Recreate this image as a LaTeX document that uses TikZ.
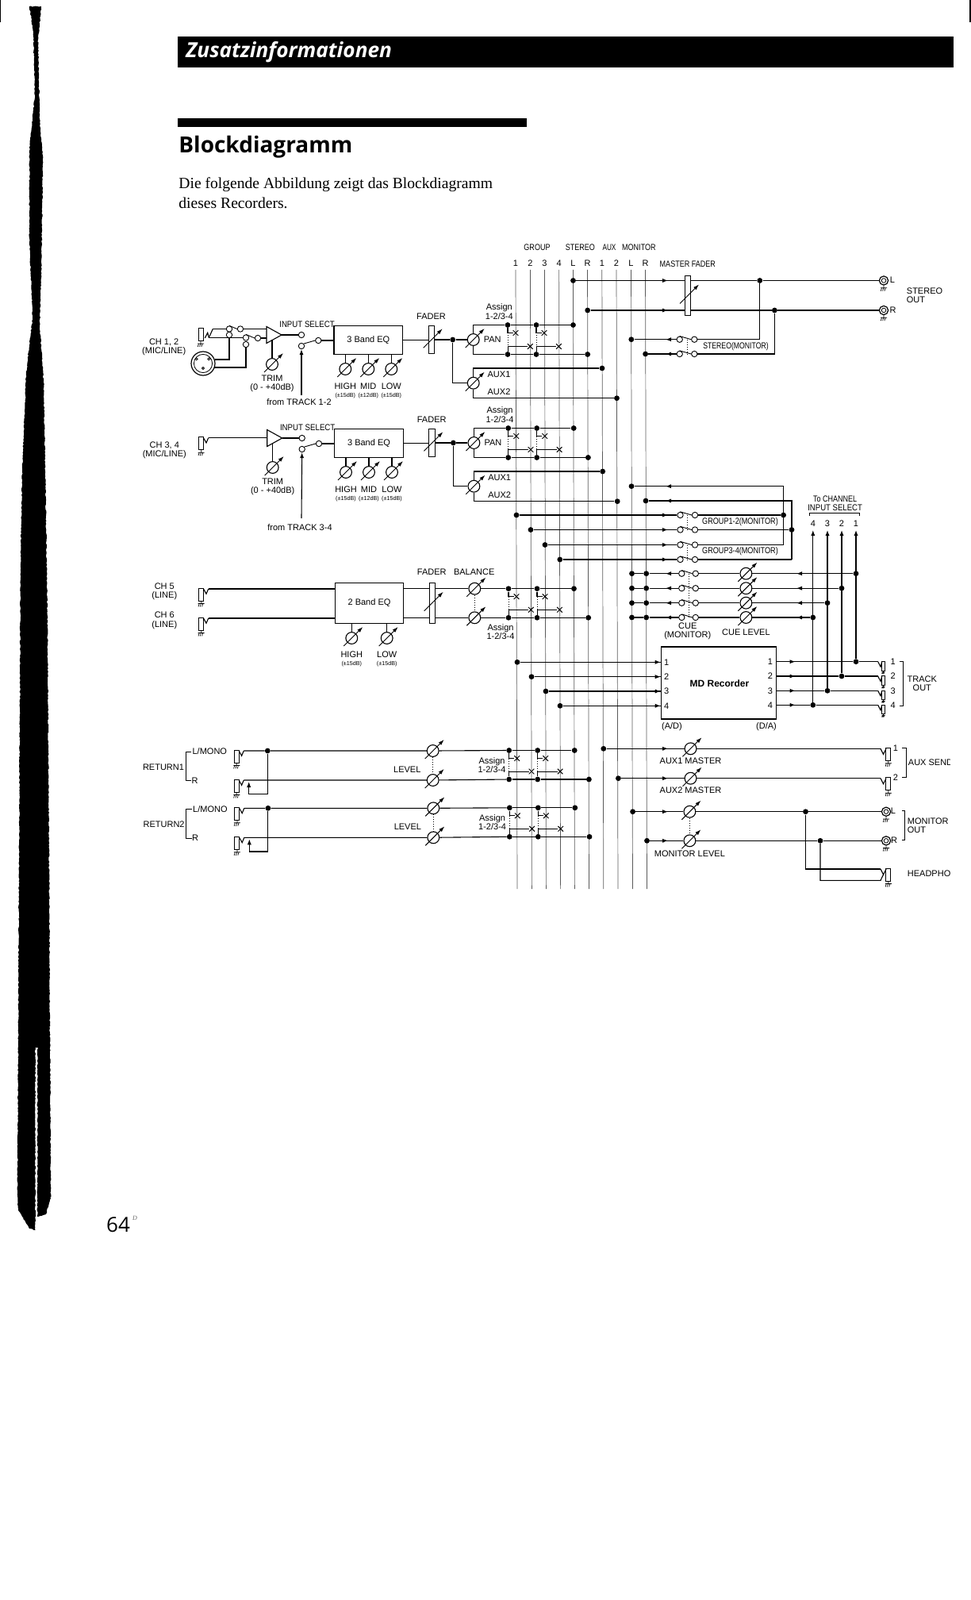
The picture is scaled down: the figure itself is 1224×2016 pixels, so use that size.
\documentclass[tikz,border=0pt]{standalone}
\usepackage{graphicx}
\usepackage{fontspec}
\setsansfont{Liberation Sans}
\newfontfamily\headfont{Open Sans}
\newfontfamily\bodyfont{Liberation Serif}
\usetikzlibrary{arrows.meta,calc,shapes.misc,decorations.pathmorphing}

\newcommand{\cond}[2][.82]{\scalebox{#1}[1]{#2}}
% pot with its diagonal arrow
\newcommand{\knob}[1]{\draw[potarr] ($(#1)+(-10,10)$) -- ($(#1)+(14,-14)$);}
\newcommand{\potm}[2]{\node[potc] (#1) at (#2) {}; \knob{#1}}
\newcommand{\fader}[3]{\node[faderbar,minimum height=#3] (#1) at (#2) {}; \knob{#1}}
\newcommand{\gnd}[2][]{\draw[gndline,#1] (#2) -- ++(0,3) ++(-4,0) -- ++(8,0) ++(-6.5,0) -- ++(-1.2,4) ++(3.5,-4) -- ++(-1.2,4) ++(3.5,-4) -- ++(-1.2,4);}
\newcommand{\injack}[2]{%
  \coordinate (#1) at (#2);
  \node[jackbody] (#1r) at ($(#1)+(-9,7)$) {};
  \draw[wire] (#1) -- ++(-2.7,6.3) -- ++(-3.3,-6);
  \gnd{#1r.south}}
\newcommand{\outjack}[2]{%
  \coordinate (#1) at (#2);
  \node[jackbody] (#1r) at ($(#1)+(9.8,7)$) {};
  \draw[wire] (#1) -- ++(3.5,7) -- ++(3.5,-7);
  \gnd{#1r.south}}
\newcommand{\trackjack}[2]{%
  \coordinate (#1) at (#2);
  \node[trackbody] (#1r) at ($(#1)+(6.8,5.5)$) {};
  \draw[wire] (#1) -- ++(3.3,6.5) -- ++(1.7,-6.5);
  \gnd[scale=.5]{#1r.south}}
\newcommand{\rcajack}[2]{%
  \node[rcaout] (#1) at (#2) {};
  \node[rcain] (#1c) at (#2) {};
  \gnd{#1.south}}
\newcommand{\swpair}[4]{%
  \node[contact] (#1l) at (#2,#4) {};
  \node[contact] (#1r) at (#3,#4) {};
  \draw[thinwire] (#1l.north) -- (#1r.west);}
% assign switches of one channel pair
\newcommand{\assign}[3]{%
  \node[dot] (#1ta) at (640,#2) {};
  \node[dot] (#1tb) at (676,#2) {};
  \node[dot] (#1tl) at (722.5,#2) {};
  \node[dot] (#1ba) at (640,#3) {};
  \node[dot] (#1bb) at (676,#3) {};
  \node[dot] (#1br) at (740.7,#3) {};
  \foreach \s/\xt/\xb in {a/650/668.3,b/686/704.4}{
    \node[xmark] (#1xt\s) at (\xt,#2+10) {};
    \node[xmark] (#1xb\s) at (\xb,#3-10) {};
    \draw[wire] (#1t\s) |- (#1xt\s);
    \draw[thinwire] (#1b\s) |- (#1xb\s);
    \draw[ganged] (#1t\s |- #1xt\s) -- (#1b\s |- #1xb\s);
  }
  \draw[wire] (#1ta) -- (#1tb) -- (#1tl);
  \draw[wire] (#1ba) -- (#1bb) -- (#1br);}
% mono/stereo input strip from the amp to the buses
\newcommand{\chanstrip}[1]{%
  \coordinate (#1ampa) at (336,411.5);
  \coordinate (#1ampb) at (336,432.5);
  \coordinate (#1ampo) at (355,422);
  \coordinate (#1ampt) at (343,428.5);
  \draw[wire] (#1ampa) -- (#1ampo) -- (#1ampb) -- cycle;
  \node[contact] (#1swa) at (380,422) {};
  \node[contact] (#1swb) at (380,436) {};
  \node[contact] (#1swc) at (401.3,429) {};
  \draw[wire] (#1ampo) -- (#1swa);
  \draw[thinwire] (#1swb.north east) -- (#1swc.west);
  \node[lab] (#1insel) at (387,409) {\cond[.88]{INPUT SELECT}};
  \node[box,minimum width=43.4pt,minimum height=18pt] (#1eq) at (464.3,428.7) {3 Band EQ};
  \draw[wire] (#1swc) -- (#1swc -| #1eq.west);
  \potm{#1trim}{343,459}
  \draw[wire] (#1trim) -- (#1ampt);
  \node[lab] (#1trimt) at (343,483.6) {TRIM\\(0 - +40dB)};
  \foreach \n/\x/\t/\r in {h/435.3/HIGH/15,m/464.3/MID/12,l/493.3/LOW/15}{
    \potm{#1e\n}{\x,465}
    \draw[wire] (#1e\n) -- (#1e\n |- #1eq.south);
    \node[lab] (#1t\n) at (\x,486.7) {\t};
    \node[tiny] (#1r\n) at (\x,498.7) {(±\r dB)};
  }
  \fader{#1fad}{543.7,428.3}{17.6pt}
  \node[lab] (#1fadt) at (543.5,398.3) {FADER};
  \node[dot] (#1fj) at (570.7,428) {};
  \potm{#1pan}{596.7,428}
  \potm{#1aux}{596.7,482.7}
  \draw[wire] (#1eq.east) -- (#1eq.east -| #1fad.west);
  \draw[wire] (#1fad.east |- #1fj) -- (#1fj) -- (#1pan);
  \draw[wire] (#1fj) |- (#1aux);
  \assign{#1as}{409.5}{446.5}
  \draw[wire] (#1pan) |- (#1asta);
  \draw[wire] (#1pan) |- (#1asba);
  \node[dot] (#1da) at (759,464) {};
  \node[dot] (#1db) at (777.5,501.7) {};
  \draw[wire] (#1aux) |- (#1da);
  \draw[wire] (#1aux) |- (#1db);
  \node[lab] (#1pant) at (620.7,427.7) {PAN};
  \node[lab] (#1auxa) at (629,472) {AUX1};
  \node[lab] (#1auxb) at (629,494) {AUX2};
  \node[lab] (#1ast) at (629.3,392.7) {Assign\\1-2/3-4};}
% return pair
\newcommand{\returnstrip}[2]{%
  \injack{#1ja}{307.3,946}
  \injack{#1jb}{307.3,983}
  \node[dot] (#1jn) at (337.3,946) {};
  \potm{#1pa}{545.7,946}
  \potm{#1pb}{545.7,983}
  \begin{scope}[shift={(1.7,0)}]
    \assign{#1as}{945.5}{982}
  \end{scope}
  \draw[wire] (#1ja) -- (#1jn) -- (#1pa) -- (#1asta);
  \draw[wire] (#1jb) -- (#1pb) -- (#1asba);
  \draw[ganged] (#1pa) -- (#1pb);
  \coordinate (#1lk) at (313.7,1000.7);
  \coordinate (#1lt) at (313.7,985);
  \draw[wire] (#1jn) |- (#1lk);
  \draw[arr] (#1lk) -- (#1lt);
  \coordinate (#1bra) at (241,947);
  \coordinate (#1brb) at (241,983.5);
  \draw[brk] (#1bra) -- ++(-7,0) |- (#1brb);
  \node[lab] (#1tm) at (264.3,947) {L/MONO};
  \node[lab] (#1tr) at (245.5,983.7) {R};
  \node[lab] (#1tn) at (206,966.7) {#2};
  \node[lab] (#1tl) at (513.3,969.3) {LEVEL};
  \node[lab] (#1ts) at (620,963.8) {Assign\\1-2/3-4};}

\begin{document}
\begin{tikzpicture}[x=.5pt,y=-.5pt,
    wire/.style={line width=.55pt},
    thinwire/.style={line width=.45pt},
    busline/.style={line width=.35pt,black!65},
    brk/.style={line width=.3pt},
    ganged/.style={line width=.5pt,densely dotted},
    arr/.style={-{Latex[length=3.5pt,width=2.6pt]},line width=.55pt},
    potarr/.style={-{Latex[length=3.6pt,width=2.4pt]},line width=.45pt},
    gndline/.style={line width=.35pt},
    dot/.style={circle,fill=black,inner sep=0pt,minimum size=3.4pt},
    contact/.style={circle,draw,fill=white,line width=.45pt,inner sep=0pt,minimum size=3.7pt},
    potc/.style={circle,draw,line width=.55pt,inner sep=0pt,minimum size=7.4pt},
    xmark/.style={cross out,draw,line width=.5pt,inner sep=0pt,minimum size=2.8pt},
    box/.style={draw,line width=.6pt,inner sep=0pt,align=center,font=\fontsize{5.5}{5.7}\selectfont\sffamily},
    faderbar/.style={draw,fill=white,line width=.45pt,inner sep=0pt,minimum width=3.6pt},
    jackbody/.style={draw,line width=.45pt,inner sep=0pt,minimum width=3pt,minimum height=8pt},
    trackbody/.style={draw,line width=.45pt,inner sep=0pt,minimum width=1.9pt,minimum height=5.8pt},
    rcaout/.style={circle,draw,line width=.6pt,inner sep=0pt,minimum size=5.6pt},
    rcain/.style={circle,draw,line width=.4pt,inner sep=0pt,minimum size=2.8pt},
    lab/.style={font=\fontsize{5.5}{5.7}\selectfont\sffamily,inner sep=0pt,align=center},
    tiny/.style={font=\fontsize{3.6}{4}\selectfont\sffamily,inner sep=0pt},
    smear/.style={fill=black,decorate,decoration={random steps,segment length=1pt,amplitude=.3pt}}
  ]
  \useasboundingbox (0,0) rectangle (1224,2016);

  % page
  \path[smear] (37,8) -- (52,8) -- (48,50) -- (50,150) -- (54,200) -- (52,350) -- (50,410) -- (55,480) -- (58,650) -- (60,800) -- (62,1100) -- (63,1320) -- (44.5,1320) -- (44.5,1550) -- (37,1548) -- (23,1525) -- (22,1500) -- (23,1300) -- (24,1100) -- (25,900) -- (26,700) -- (28,590) -- (33,470) -- (41,400) -- (37,300) -- (37,190) -- (44,120) -- (42,40) -- cycle;
  \path[smear] (47.2,1315) -- (63,1315) -- (64,1510) -- (58,1530) -- (47.2,1533) -- cycle;
  \fill (0,0) rectangle (1,28);
  \fill (1222,0) rectangle (1224,28);
  \fill (223.7,46) rectangle (1202,85.5);
  \fill (223.7,149) rectangle (663.8,160);
  \node[anchor=west,inner sep=0pt,text=white,font=\headfont\bfseries\itshape\fontsize{13.1}{13.1}\selectfont] (zusatz) at (234,65.5) {Zusatzinformationen};
  \node[anchor=west,inner sep=0pt,font=\headfont\bfseries\fontsize{14}{14}\selectfont] (blocktitle) at (225,185) {Blockdiagramm};
  \node[anchor=west,inner sep=0pt,font=\bodyfont\fontsize{9.8}{9.8}\selectfont] (bodya) at (225,233) {Die folgende Abbildung zeigt das Blockdiagramm};
  \node[anchor=west,inner sep=0pt,font=\bodyfont\fontsize{9.8}{9.8}\selectfont] (bodyb) at (225,256) {dieses Recorders.};
  \node[inner sep=0pt,font=\headfont\fontsize{13}{13}\selectfont] (pagenum) at (149,1543) {64};
  \node[inner sep=0pt,text=black!60,font=\bodyfont\itshape\fontsize{4}{4}\selectfont] (pagesup) at (170,1535) {D};

  % buses
  \foreach \n/\x/\t in {g1/650/1,g2/668.4/2,g3/686.4/3,g4/704.6/4,sl/722.4/L,sr/740.5/R,a1/758.8/1,a2/777/2,ml/795.5/L,mr/813.5/R}{
    \coordinate (\n top) at (\x,340);
    \coordinate (\n bot) at (\x+2,1120);
    \draw[busline] (\n top) -- (\n bot);
    \node[lab] (\n num) at (\x,331.7) {\t};
  }
  \node[lab] (groupt) at (677,311.7) {\cond{GROUP}};
  \node[lab] (stereot) at (731.4,311.7) {\cond{STEREO}};
  \node[lab] (auxt) at (768,311.7) {\cond[.75]{AUX}};
  \node[lab] (monitort) at (805.4,311.7) {\cond{MONITOR}};
  \coordinate (colr) at (842,0);
  \coordinate (coll) at (839,0);
  \coordinate (colo) at (1004,0);

  % channels 1-4
  \node[lab] (ch1t) at (206.7,437.3) {CH 1, 2\\(MIC/LINE)};
  \node[jackbody] (ch1jr) at (253,421.5) {};
  \gnd{ch1jr.south}
  \coordinate (ch1jt) at (268.3,414.5);
  \coordinate (ch1jn) at (263.3,425.5);
  \draw[wire] (ch1jn) -- ++(-1.6,-6.2) -- ++(-3.4,6.7);
  \draw[wire] (ch1jn) -- (ch1jt);
  \node[contact] (ch1a) at (289,414.5) {};
  \node[contact] (ch1e) at (303,414.5) {};
  \node[contact] (ch1b) at (289,422) {};
  \node[contact] (ch1c) at (310,425.5) {};
  \node[contact] (ch1f) at (325,426) {};
  \node[contact] (ch1d) at (310,434) {};
  \node[circle,draw,line width=.6pt,inner sep=0pt,minimum size=15pt] (xlr) at (256,458) {};
  \node[circle,draw,line width=.4pt,inner sep=0pt,minimum size=11.6pt] (xlri) at (256,458) {};
  \foreach \n/\x/\y in {a/247.7/452.3,b/263.3/452.3,c/256/464}{
    \node[circle,draw,line width=.4pt,inner sep=0pt,minimum size=1.5pt] (xlr\n) at (\x,\y) {};
  }
  \coordinate (ch1xa) at (271,453);
  \coordinate (ch1xb) at (269.5,463);
  \draw[wire] (ch1jt) -- (ch1a);
  \draw[thinwire] (ch1a.north) -- (ch1e.west);
  \draw[wire] (ch1jn) -- (ch1c);
  \draw[thinwire] (ch1c.north) -- (ch1f.west);
  \draw[wire] (ch1xa) -| (ch1b);
  \draw[wire] (ch1xb) -| (ch1d);
  \chanstrip{ca}
  \draw[wire] (ch1e) -- (ch1e -| caampa);
  \draw[wire] (ch1f) -- (ch1f -| caampa);
  \coordinate (trk12) at (380,498);
  \draw[arr] (trk12) -- (caswb);
  \node[lab] (trk12t) at (377,507) {from TRACK 1-2};

  \node[lab] (ch3t) at (207.3,567) {CH 3, 4\\(MIC/LINE)};
  \injack{ch3j}{262.7,551.7}
  \begin{scope}[shift={(.7,130)}]
    \chanstrip{cb}
  \end{scope}
  \draw[wire] (ch3j) -- (ch3j -| cbampa);
  \coordinate (trk34) at (380,653);
  \draw[arr] (trk34) -- (cbswb);
  \node[lab] (trk34t) at (378,665) {from TRACK 3-4};

  % channels 5-6
  \node[lab] (ch5t) at (207.3,745.2) {CH 5\\(LINE)};
  \node[lab] (ch6t) at (207.3,781.9) {CH 6\\(LINE)};
  \injack{ch5j}{262.7,742}
  \injack{ch6j}{262.7,779}
  \node[box,minimum width=43.2pt,minimum height=25.5pt] (eqb) at (465.5,759.8) {2 Band EQ};
  \fader{fadb}{544.7,759.8}{25.5pt}
  \potm{balb}{598.3,741.7}
  \potm{balc}{598.3,778.3}
  \begin{scope}[shift={(1,0)}]
    \assign{asb}{741.7}{778.3}
  \end{scope}
  \draw[wire] (ch5j) -- (ch5j -| eqb.west);
  \draw[wire] (ch6j) -- (ch6j -| eqb.west);
  \draw[wire] (eqb.east |- balb) -- (balb -| fadb.west);
  \draw[wire] (eqb.east |- balc) -- (balc -| fadb.west);
  \draw[wire] (fadb.east |- balb) -- (balb) -- (asbta);
  \draw[wire] (fadb.east |- balc) -- (balc) -- (asbba);
  \draw[ganged] (balb) -- (balc);
  \foreach \n/\x/\t in {h/443.3/HIGH,l/487.7/LOW}{
    \potm{eqb\n}{\x,804}
    \draw[wire] (eqb\n) -- (eqb\n |- eqb.south);
    \node[lab] (eqb\n t) at (\x,825) {\t};
    \node[tiny] (eqb\n r) at (\x,836.7) {(±15dB)};
  }
  \node[lab] (fadbt) at (544.3,720.3) {FADER};
  \node[lab] (balt) at (597.7,720.3) {BALANCE};
  \node[lab] (asbt) at (631,796) {Assign\\1-2/3-4};

  % returns
  \returnstrip{ra}{RETURN1}
  \begin{scope}[shift={(.6,72.3)}]
    \returnstrip{rb}{RETURN2}
  \end{scope}

  % stereo out
  \node[lab] (mfadt) at (866.8,332.7) {\cond{MASTER FADER}};
  \node[dot] (stl) at (722.5,353.5) {};
  \node[dot] (str) at (740.7,391) {};
  \fader{mfad}{867,372.5}{25pt}
  \node[dot] (stlj) at (957.8,353.5) {};
  \node[dot] (strj) at (976.4,391) {};
  \rcajack{outl}{1114,353.5}
  \rcajack{outr}{1114,391}
  \draw[wire] (stl) -- (stl -| mfad.west);
  \draw[wire] (str) -- (str -| mfad.west);
  \draw[arr] (stl) -- (stl -| colr);
  \draw[arr] (str) -- (str -| colr);
  \draw[wire] (stl -| mfad.east) -- (stlj) -- (outl);
  \draw[wire] (str -| mfad.east) -- (strj) -- (outr);
  \node[lab] (outlt) at (1125,353) {L};
  \node[lab] (outrt) at (1125.7,391) {R};
  \node[lab,anchor=west,align=left] (stoutt) at (1142.5,372.5) {STEREO\\OUT};

  % stereo to monitor
  \node[dot] (sma) at (795.8,427.7) {};
  \node[dot] (smb) at (813.6,446) {};
  \swpair{swa}{856.7}{875.3}{427.7}
  \swpair{swb}{856.7}{875.3}{446}
  \draw[wire] (swal) -- (sma);
  \draw[wire] (swbl) -- (smb);
  \draw[arr] (swal) -- (swal -| coll);
  \draw[arr] (swbl) -- (swbl -| coll);
  \draw[wire] (swar) -| (stlj);
  \draw[wire] (swbr) -| (strj);
  \draw[ganged] ($(swal)!.5!(swar)$) -- ($(swbl)!.5!(swbr)$);
  \node[lab] (smt) at (927.5,436.7) {\cond[.79]{STEREO(MONITOR)}};

  % group to monitor
  \node[dot] (rtl) at (796,612.7) {};
  \node[dot] (rtr) at (814,631) {};
  \node[dot] (grv1) at (987.6,649) {};
  \node[dot] (grv2) at (998,667.5) {};
  \coordinate (grv3) at (987.6,686.5);
  \coordinate (grv4) at (998,705);
  \foreach \n/\x/\y in {1/651/649,2/669/667.5,3/687/686.5,4/705.8/705}{
    \node[dot] (grd\n) at (\x,\y) {};
    \swpair{grs\n}{857.5}{876}{\y}
    \draw[wire] (grd\n) -- (grs\n l);
    \draw[arr] (grd\n) -- (grd\n -| colr);
    \draw[wire] (grs\n r) -- (grv\n);
  }
  \draw[wire] (grv3) |- (rtl);
  \draw[wire] (grv4) |- (rtr);
  \draw[arr] (grv3 |- rtl) -- (rtl -| coll);
  \draw[arr] (grv4 |- rtr) -- (rtr -| coll);
  \draw[ganged] ($(grs1l)!.5!(grs1r)$) -- ($(grs2l)!.5!(grs2r)$);
  \draw[ganged] ($(grs3l)!.5!(grs3r)$) -- ($(grs4l)!.5!(grs4r)$);
  \node[lab] (gra) at (933,657.7) {\cond[.83]{GROUP1-2(MONITOR)}};
  \node[lab] (grb) at (933,695) {\cond[.83]{GROUP3-4(MONITOR)}};

  % track return
  \node[lab] (toch) at (1052.6,634.3) {\cond{To CHANNEL}\\\cond[.87]{INPUT SELECT}};
  \coordinate (tocha) at (1020.5,650);
  \coordinate (tochb) at (1083,650);
  \draw[brk] (tocha) -- ++(0,-3.5) -| (tochb);
  \foreach \n/\x/\a/\y/\yi/\yo/\xi in {1/1079/1/722.7/834.3/833.7/652,2/1061/2/741.2/852.7/852/670,3/1043/3/759.7/871/870.3/688,4/1024.8/4/778/889.3/888.3/706}{
    \coordinate (tip\n) at (\x,668);
    \node[lab] (tipt\n) at (\x,660) {\a};
    \node[dot] (cl\n) at (796.5,\y) {};
    \node[dot] (cr\n) at (814.7,\y) {};
    \swpair{cs\n}{859.3}{876.8}{\y}
    \potm{cp\n}{940.4,\y}
    \node[dot] (cd\n) at (\x,\y) {};
    \draw[wire] (cl\n) -- (cr\n) -- (cs\n l);
    \draw[arr] (cs\n l) -- (cs\n l -| coll);
    \draw[wire] (cs\n r) -- (cp\n) -- (cd\n);
    \draw[arr] (cd\n) -- (cd\n -| colo);
    \node[dot] (trk\n) at (\x,\yo) {};
    \draw[arr] (trk\n) -- (tip\n);
    \node[dot] (mdi\n) at (\xi,\yi) {};
  }
  \draw[ganged] ($(cs1l)!.5!(cs1r)$) -- ($(cs4l)!.5!(cs4r)$);
  \node[lab] (cuet) at (866.8,795.5) {CUE\\(MONITOR)};
  \node[lab] (cuelt) at (940.4,796.7) {CUE LEVEL};

  % md recorder
  \node[box,minimum width=72.7pt,minimum height=45.5pt] (md) at (906,860.5) {};
  \node[lab,font=\fontsize{6}{6}\selectfont\sffamily\bfseries] (mdt) at (907,861) {MD Recorder};
  \foreach \n in {1,2,3,4}{
    \draw[wire] (mdi\n) -- (mdi\n -| md.west);
    \draw[arr] (mdi\n) -- (mdi\n -| md.west);
    \node[lab] (mdn\n) at ($(mdi\n -| md.west)+(7.5,0)$) {\n};
    \node[lab] (mdo\n) at ($(trk\n -| md.east)+(-8.5,0)$) {\n};
    \trackjack{tj\n}{1106.7,0 |- trk\n}
    \draw[wire] (trk\n -| md.east) -- (trk\n) -- (tj\n);
    \draw[arr] (trk\n -| md.east) -- (trk\n -| 1002.5,0);
    \node[lab] (tjt\n) at (trk\n -| 1125.7,0) {\n};
  }
  \node[lab] (adt) at (847,915.3) {(A/D)};
  \node[lab] (dat) at (966,915.3) {(D/A)};
  \coordinate (trba) at (1134,833);
  \coordinate (trbb) at (1134,889);
  \draw[brk] (trba) -- ++(4.6,0) |- (trbb);
  \node[lab] (trackt) at (1162.3,861.2) {TRACK\\OUT};

  % aux send
  \foreach \n/\x/\y/\t in {1/760.8/943.3/AUX1 MASTER,2/779.4/980.7/AUX2 MASTER}{
    \node[dot] (axd\n) at (\x,\y) {};
    \potm{axp\n}{870.5,\y}
    \outjack{axj\n}{1110,\y}
    \draw[wire] (axd\n) -- (axp\n) -- (axj\n);
    \draw[arr] (axd\n) -- (axd\n -| colr);
    \node[lab] (axt\n) at (870.5,\y+15.5) {\t};
    \node[lab] (axn\n) at (1128.8,\y-1) {\n};
  }
  \coordinate (axba) at (1137.4,942.3);
  \coordinate (axbb) at (1137.4,979.3);
  \draw[brk] (axba) -- ++(5.2,0) |- (axbb);

  % monitor out
  \node[dot] (mol) at (797.6,1022.7) {};
  \node[dot] (mor) at (815.5,1059.3) {};
  \potm{mpl}{869.4,1022.7}
  \potm{mpr}{869.4,1059.3}
  \node[dot] (mjl) at (1015.5,1022.7) {};
  \node[dot] (mjr) at (1034,1059.3) {};
  \rcajack{mol j}{1117,1022.7}
  \rcajack{mor j}{1117,1059.3}
  \draw[wire] (mol) -- (mpl) -- (mjl) -- (mol j);
  \draw[wire] (mor) -- (mpr) -- (mjr) -- (mor j);
  \draw[arr] (mol) -- (mol -| colr);
  \draw[arr] (mor) -- (mor -| colr);
  \draw[ganged] (mpl) -- (mpr);
  \node[lab] (molv) at (869.4,1076) {MONITOR LEVEL};
  \node[lab] (molt) at (1126,1022) {L};
  \node[lab] (mort) at (1127,1059) {R};
  \node[lab,anchor=west,align=left] (moout) at (1143.5,1040) {MONITOR\\OUT};
  \coordinate (moba) at (1137.4,1021.7);
  \coordinate (mobb) at (1137.4,1058);
  \draw[brk] (moba) -- ++(3.3,0) |- (mobb);

  % headphones
  \outjack{hpj}{1110,1095}
  \coordinate (hpb) at (1113.5,1102);
  \coordinate (hpc) at (1110,1109.3);
  \draw[wire] (mjl) |- (hpj);
  \draw[wire] (mjr) |- (hpc) -- (hpb);
  \begin{scope}
    \clip (1140,930) rectangle (1197,1115);
    \node[lab,anchor=west] (auxsend) at (1144.5,961) {AUX SEND};
    \node[lab,anchor=west] (hpt) at (1143.5,1100.7) {HEADPHONES};
  \end{scope}
\end{tikzpicture}
\end{document}
